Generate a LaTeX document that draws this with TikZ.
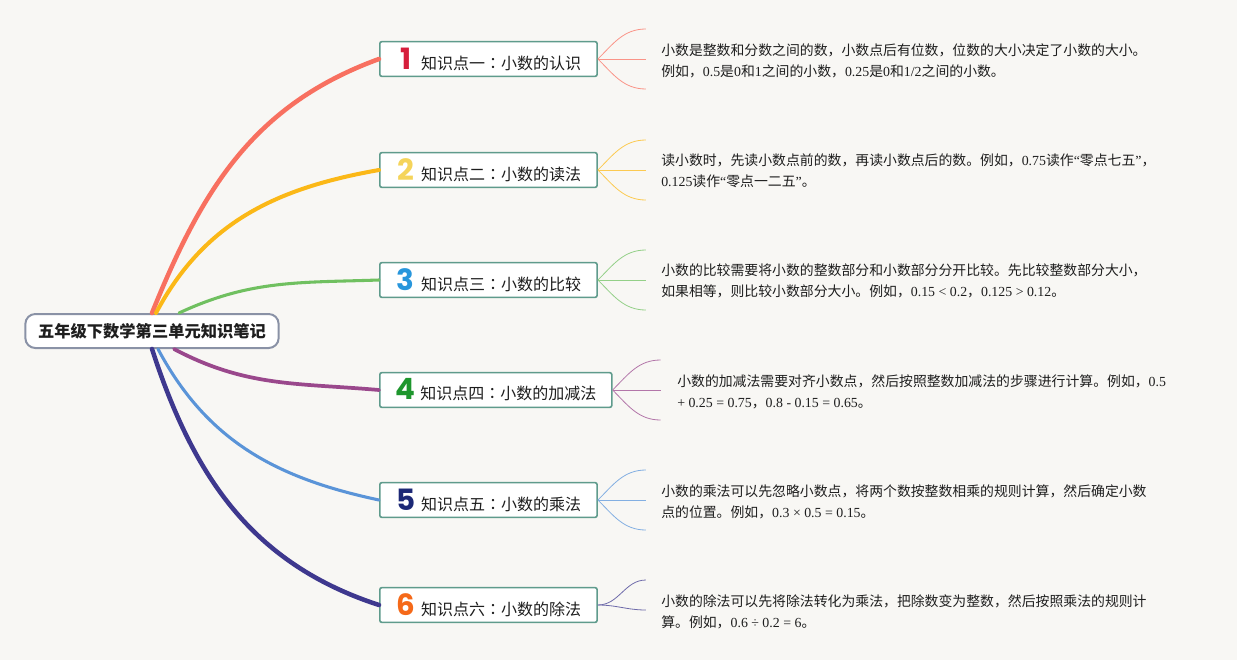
\documentclass[tikz,border=0pt]{standalone}
\usepackage{fontspec}
\setmainfont{Noto Sans CJK SC}
\newfontfamily\lat{Liberation Serif}
\newfontfamily\numfont{Poppins}
\newfontfamily\jpfont{Noto Sans CJK JP}
\usetikzlibrary{calc}
\definecolor{bgcream}{RGB}{248,247,244}
\definecolor{rootgrey}{RGB}{138,146,166}
\definecolor{boxteal}{RGB}{95,155,140}
\definecolor{inkgrey}{RGB}{30,30,30}
\definecolor{salmonred}{RGB}{248,112,96}
\definecolor{sunyellow}{RGB}{251,184,23}
\definecolor{leafgreen}{RGB}{112,192,96}
\definecolor{plumpurple}{RGB}{154,72,140}
\definecolor{skyblue}{RGB}{90,148,216}
\definecolor{inkindigo}{RGB}{62,56,142}
\definecolor{numred}{RGB}{214,30,60}
\definecolor{numyellow}{RGB}{245,212,90}
\definecolor{numblue}{RGB}{40,150,220}
\definecolor{numgreen}{RGB}{30,150,45}
\definecolor{numnavy}{RGB}{28,40,118}
\definecolor{numorange}{RGB}{245,105,25}
\tikzset{
  base/.style={align=left, inner sep=3pt, text=inkgrey},
  hub/.style={base, rectangle, rounded corners=7.5pt, draw=rootgrey, fill=white, line width=1.5pt, minimum width=190pt, minimum height=25.5pt, font=\fontsize{12.2}{14}\selectfont\bfseries},
  topic/.style={base, rectangle, rounded corners=1.5pt, draw=boxteal, fill=white, line width=1.2pt, minimum width=163pt, minimum height=26pt, inner xsep=10pt, inner ysep=1pt, anchor=west, font=\fontsize{12}{13}\selectfont},
  desc/.style={base, anchor=west, inner sep=0pt, font=\fontsize{10.4}{15.75}\selectfont},
  branch/.style={draw=#1, line cap=round},
  twig/.style={draw=#1!75, line width=0.6pt},
}
\newcommand{\topicnum}[2]{\makebox[15pt]{\numfont\bfseries\fontsize{22}{22}\selectfont\color{#1}#2}\hspace{4pt}}
\newcommand{\colonjp}{{\jpfont ：}}
\newcommand{\forkthree}[2]{%
  \coordinate (#1up) at ($(#1.east)+(48,-30)$);
  \coordinate (#1mid) at ($(#1.east)+(48,0)$);
  \coordinate (#1dn) at ($(#1.east)+(48,30)$);
  \draw[twig=#2] (#1.east) to[out=45,in=180] (#1up);
  \draw[twig=#2] (#1.east) -- (#1mid);
  \draw[twig=#2] (#1.east) to[out=-45,in=180] (#1dn);}
\begin{document}
\begin{tikzpicture}[x=0.75pt,y=-0.75pt]
  \fill[bgcream] (0,0) rectangle (1237,660);
  \useasboundingbox (0,0) rectangle (1237,660);
  \node[hub] (root) at (152,331) {五年级下数学第三单元知识笔记};
  \node[topic] (k1) at (379,59)  {\topicnum{numred}{1}知识点一\colonjp 小数的认识};
  \node[topic] (k2) at (379,170) {\topicnum{numyellow}{2}知识点二\colonjp 小数的读法};
  \node[topic] (k3) at (379,280) {\topicnum{numblue}{3}知识点三\colonjp 小数的比较};
  \node[topic,minimum width=174pt] (k4) at (379,390) {\topicnum{numgreen}{4}知识点四\colonjp 小数的加减法};
  \node[topic] (k5) at (379,500) {\topicnum{numnavy}{5}知识点五\colonjp 小数的乘法};
  \node[topic] (k6) at (379,605) {\topicnum{numorange}{6}知识点六\colonjp 小数的除法};
  % main branches
  \draw[branch=salmonred,line width=3.4pt] (root.north) to[out=68,in=200] (k1.west);
  \draw[branch=sunyellow,line width=3pt] ($(root.north)+(4,0)$) to[out=62,in=190] (k2.west);
  \draw[branch=leafgreen,line width=2.3pt] ($(root.north)+(27,0)$) to[out=25,in=182] (k3.west);
  \draw[branch=plumpurple,line width=2.8pt] ($(root.south)+(22,0)$) to[out=-28,in=175] (k4.west);
  \draw[branch=skyblue,line width=2.3pt] ($(root.south)+(6,0)$) to[out=-62,in=168] (k5.west);
  \draw[branch=inkindigo,line width=3.4pt] (root.south) to[out=-72,in=162] (k6.west);
  % notes
  \forkthree{k1}{salmonred}
  \forkthree{k2}{sunyellow}
  \forkthree{k3}{leafgreen}
  \forkthree{k4}{plumpurple}
  \forkthree{k5}{skyblue}
  \coordinate (k6up) at ($(k6.east)+(48,-25)$);
  \coordinate (k6dn) at ($(k6.east)+(48,5)$);
  \draw[twig=inkindigo] (k6.east) to[out=0,in=180] (k6up);
  \draw[twig=inkindigo] (k6.east) to[out=0,in=180] (k6dn);
  \node[desc] (t1) at (661,61) {小数是整数和分数之间的数，小数点后有位数，位数的大小决定了小数的大小。\\例如，{\lat 0.5}是{\lat 0}和{\lat 1}之间的小数，{\lat 0.25}是{\lat 0}和{\lat 1/2}之间的小数。};
  \node[desc] (t2) at (661,171) {读小数时，先读小数点前的数，再读小数点后的数。例如，{\lat 0.75}读作{\lat “}零点七五{\lat ”}，\\{\lat 0.125}读作{\lat “}零点一二五{\lat ”}。};
  \node[desc] (t3) at (661,281) {小数的比较需要将小数的整数部分和小数部分分开比较。先比较整数部分大小，\\如果相等，则比较小数部分大小。例如，{\lat 0.15 < 0.2}，{\lat 0.125 > 0.12}。};
  \node[desc] (t4) at (677,392) {小数的加减法需要对齐小数点，然后按照整数加减法的步骤进行计算。例如，{\lat 0.5}\\{\lat + 0.25 = 0.75}，{\lat 0.8 - 0.15 = 0.65}。};
  \node[desc] (t5) at (661,502) {小数的乘法可以先忽略小数点，将两个数按整数相乘的规则计算，然后确定小数\\点的位置。例如，{\lat 0.3 × 0.5 = 0.15}。};
  \node[desc] (t6) at (661,612) {小数的除法可以先将除法转化为乘法，把除数变为整数，然后按照乘法的规则计\\算。例如，{\lat 0.6 ÷ 0.2 = 6}。};
\end{tikzpicture}
\end{document}
